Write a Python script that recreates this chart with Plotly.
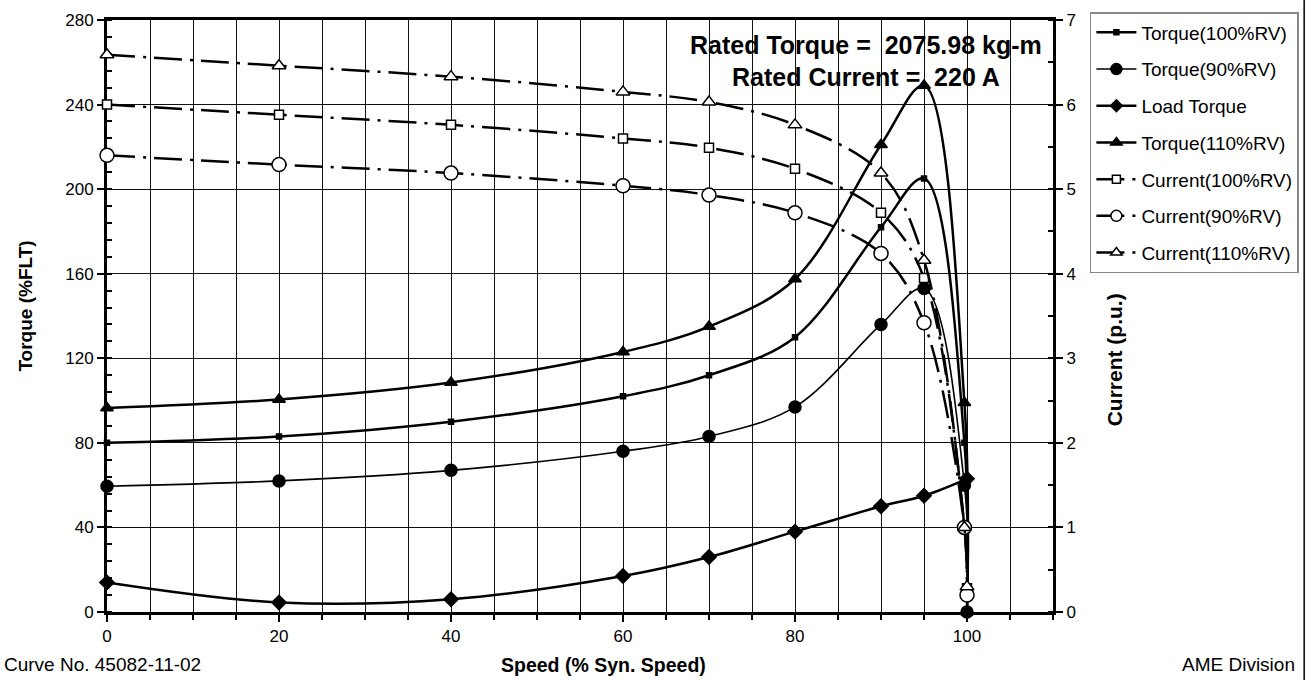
import plotly.graph_objects as go

# ---- data ----
speed = [0, 20, 40, 60, 70, 80, 90, 95, 99.7, 100]
torque_100 = [80, 83, 90, 102, 112, 130, 182, 205, 80, 0]
torque_90 = [59.5, 62, 67, 76, 83, 97, 136, 153, 60, 0]
torque_110 = [96.5, 100.5, 108.5, 123, 135, 157.5, 221, 249, 99, 0]
load_speed = [0, 20, 40, 60, 70, 80, 90, 95, 100]
load_torque = [14, 4.5, 6, 17, 26, 38, 50, 55, 63]
current_100 = [6.0, 5.88, 5.76, 5.6, 5.49, 5.24, 4.72, 3.95, 1.0, 0.28]
current_90 = [5.4, 5.29, 5.19, 5.04, 4.93, 4.72, 4.24, 3.42, 1.0, 0.2]
current_110 = [6.59, 6.46, 6.33, 6.15, 6.03, 5.76, 5.19, 4.16, 1.0, 0.3]

y_ticks = [0, 40, 80, 120, 160, 200, 240, 280]
y2_ticks = [0, 1, 2, 3, 4, 5, 6, 7]
x_ticks = [0, 20, 40, 60, 80, 100]

FONT = "Liberation Sans, Arial, sans-serif"
DASHDOT = "28px,8px,3px,8px"

fig = go.Figure()

def add(name, x, y, symbol, size, lsize, fill, lw, dash="solid", axis="y"):
    line = dict(color="black", width=lw, shape="spline", smoothing=1.0, dash=dash)
    fig.add_trace(go.Scatter(
        x=x, y=y, name=name, mode="lines+markers", yaxis=axis,
        line=line,
        marker=dict(symbol=symbol, size=size, color=fill,
                    line=dict(color="black", width=1.5)),
        cliponaxis=False, showlegend=False,
    ))
    # legend entry with smaller symbol, like the reference legend
    fig.add_trace(go.Scatter(
        x=[None], y=[None], name=name, mode="lines+markers", yaxis=axis,
        line=dict(color="black", width=lw, dash=dash),
        marker=dict(symbol=symbol, size=lsize, color=fill,
                    line=dict(color="black", width=1.5)),
        legendgroup=name, showlegend=True, hoverinfo="skip",
    ))

add("Torque(100%RV)", speed, torque_100, "square", 5, 5, "black", 2.5)
add("Torque(90%RV)", speed, torque_90, "circle", 12, 11, "black", 1.6)
add("Load Torque", load_speed, load_torque, "diamond", 11, 9, "black", 2.5)
add("Torque(110%RV)", speed, torque_110, "triangle-up", 11, 10, "black", 2.5)
add("Current(100%RV)", speed, current_100, "square", 9, 8, "white", 2.5, DASHDOT, "y2")
add("Current(90%RV)", speed, current_90, "circle", 14, 11, "white", 2.5, DASHDOT, "y2")
add("Current(110%RV)", speed, current_110, "triangle-up", 12, 10, "white", 2.5, DASHDOT, "y2")

tickfont = dict(family=FONT, size=17, color="black")

fig.update_layout(
    width=1306, height=680,
    margin=dict(l=107, r=253, t=20, b=68, autoexpand=False),
    paper_bgcolor="white", plot_bgcolor="white",
    font=dict(family=FONT, size=17, color="black"),
    showlegend=True,
    legend=dict(x=1.039, y=1.0135, xanchor="left", yanchor="top",
                bordercolor="#888", borderwidth=1.5, bgcolor="white",
                font=dict(family=FONT, size=19, color="black"),
                tracegroupgap=9, itemwidth=40),
    xaxis=dict(range=[0, 110], tickvals=x_ticks, ticktext=[str(v) for v in x_ticks],
               showgrid=True, gridcolor="#111", gridwidth=1.2,
               minor=dict(dtick=5, tick0=0, showgrid=True, gridcolor="#111", gridwidth=1.2,
                          ticks="outside", ticklen=5, tickcolor="black"),
               ticks="outside", ticklen=7, tickwidth=2, tickcolor="black",
               showline=True, linecolor="black", linewidth=3, mirror=True,
               layer="below traces", tickfont=tickfont, zeroline=False, automargin=False),
    yaxis=dict(range=[0, 280], tickvals=y_ticks, showgrid=True, gridcolor="#111", gridwidth=1.2,
               minor=dict(dtick=8, tick0=0, ticks="inside", ticklen=5, tickcolor="black"),
               ticks="outside", ticklen=7, tickwidth=2, tickcolor="black",
               showline=True, linecolor="black", linewidth=3,
               layer="below traces", tickfont=tickfont, zeroline=False, automargin=False),
    yaxis2=dict(range=[0, 7], tickvals=y2_ticks, overlaying="y", side="right",
                showgrid=False, zeroline=False,
                minor=dict(dtick=0.5, tick0=0, ticks="inside", ticklen=5, tickcolor="black"),
                ticks="outside", ticklen=7, tickwidth=2, tickcolor="black",
                showline=True, linecolor="black", linewidth=3,
                layer="below traces", tickfont=tickfont, automargin=False),
)

ann = [
    dict(text="<b>Torque (%FLT)</b>", x=-0.086, y=0.517, textangle=-90, size=19),
    dict(text="<b>Current (p.u.)</b>", x=1.065, y=0.426, textangle=-90, size=21),
    dict(text="<b>Speed (% Syn. Speed)</b>", x=0.525, y=-0.0895, size=19.5),
    dict(text="<b>Rated Torque = &nbsp;2075.98 kg-m</b>", x=0.802, y=0.958, size=25),
    dict(text="<b>Rated Current = &nbsp;220 A</b>", x=0.802, y=0.904, size=25),
]
for a in ann:
    fig.add_annotation(text=a["text"], x=a["x"], y=a["y"], xref="paper", yref="paper",
                       showarrow=False, textangle=a.get("textangle", 0),
                       font=dict(family=FONT, size=a["size"], color="black"),
                       xanchor="center", yanchor="middle")

fig.add_annotation(text="Curve No. 45082-11-02", x=-0.111, y=-0.0895, xref="paper", yref="paper",
                   showarrow=False, xanchor="left", yanchor="middle",
                   font=dict(family=FONT, size=19, color="black"))
fig.add_annotation(text="AME Division", x=1.258, y=-0.0895, xref="paper", yref="paper",
                   showarrow=False, xanchor="right", yanchor="middle",
                   font=dict(family=FONT, size=19, color="black"))

fig.add_shape(type="line", xref="paper", yref="paper", x0=1.2655, x1=1.2655, y0=-0.12, y1=1.04,
              line=dict(color="black", width=1.5))

fig.write_html("out.html")
